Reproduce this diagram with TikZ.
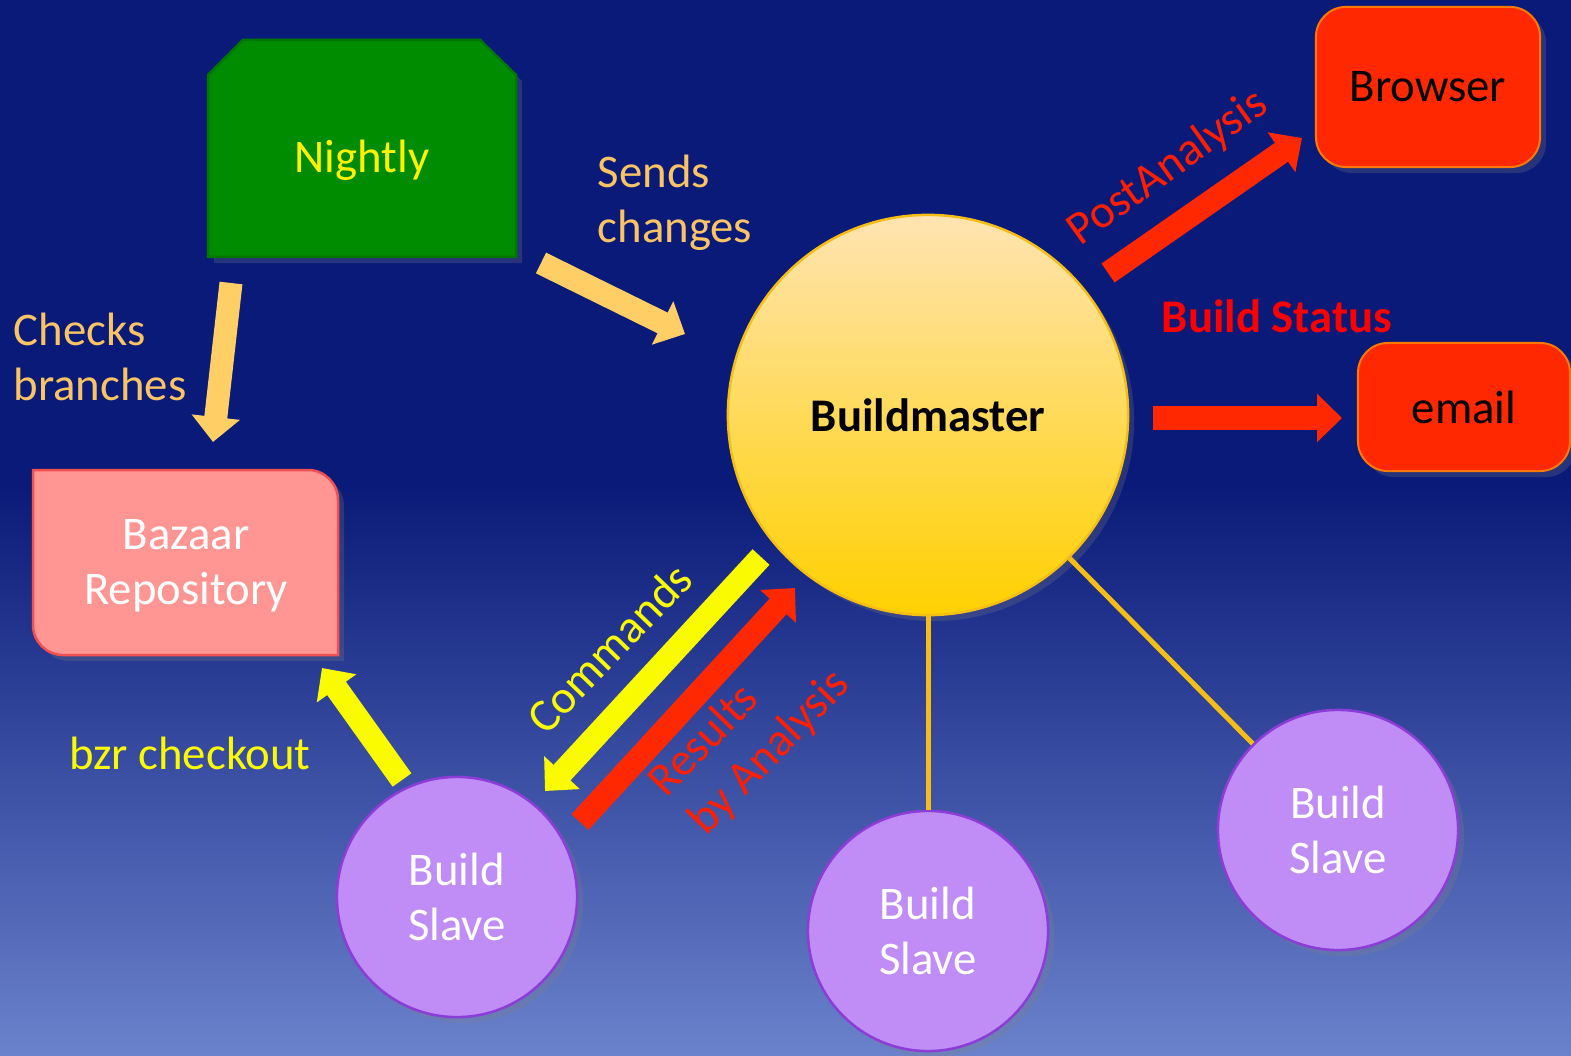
\documentclass[tikz,border=0pt]{standalone}
\usepackage{fontspec}
\setmainfont{Carlito}
\usetikzlibrary{arrows.meta}
\usetikzlibrary{shadows}
\usetikzlibrary{positioning}

\definecolor{bgtop}{RGB}{10,26,120}
\definecolor{bgbot}{RGB}{106,130,204}
\definecolor{nightgreen}{RGB}{0,140,0}
\definecolor{nightline}{RGB}{0,120,0}
\definecolor{repopink}{RGB}{255,150,148}
\definecolor{repoline}{RGB}{240,80,80}
\definecolor{masterlight}{RGB}{255,228,178}
\definecolor{masterdark}{RGB}{255,208,0}
\definecolor{masterline}{RGB}{245,190,20}
\definecolor{outred}{RGB}{255,40,0}
\definecolor{outline}{RGB}{255,120,0}
\definecolor{slavefill}{RGB}{192,140,245}
\definecolor{slaveline}{RGB}{140,60,215}
\definecolor{labelorange}{RGB}{250,196,100}
\definecolor{arroworange}{RGB}{255,206,100}
\definecolor{brightyellow}{RGB}{250,250,0}
\definecolor{labelred}{RGB}{255,30,0}

% the picture covers 25bp to 75bp of the shading
\pgfdeclareverticalshading{backdrop}{100bp}{color(0bp)=(bgbot); color(25bp)=(bgbot); color(52bp)=(bgtop); color(100bp)=(bgtop)}

\tikzset{
  txt/.style={font=\fontsize{13.3}{15.7}\selectfont, inner sep=0pt},
  shadowed/.style={drop shadow={opacity=0.25, shadow xshift=0.6mm, shadow yshift=-0.6mm}},
  slave/.style={circle, draw=slaveline, line width=0.25mm, fill=slavefill,
    minimum size=2.4cm, text=white, align=center, txt, shadowed},
  outbox/.style={rectangle, rounded corners=3mm, draw=outline, line width=0.2mm,
    fill=outred, text=black, txt, shadowed},
  spoke/.style={masterline, line width=0.5mm},
  fatarrow/.style={line width=2.3mm, -{Triangle[length=2.5mm 0 0, width=4.7mm 0 0]}},
}

\begin{document}
\begin{tikzpicture}[x=0.01cm, y=-0.01cm]
	\clip (0,0) rectangle (1571,1055);
	\shade[shading=backdrop] (0,0) rectangle (1571,1055);

	% nightly and the repository
	\filldraw[fill=nightgreen, draw=nightline, line width=0.25mm, shadowed]
		(208,75) -- (243,40) -- (480,40) -- (516,75) -- (516,257) -- (208,257) -- cycle;
	\node[txt, text=yellow] (nightly) at (362,160) {Nightly};

	\filldraw[fill=repopink, draw=repoline, line width=0.25mm, shadowed]
		(33,600) -- (33,470) [rounded corners=3mm] -- (338,470) [sharp corners] -- (338,655)
		[rounded corners=3mm] -- (33,655) [sharp corners] -- cycle;
	\node[txt, text=white, align=center] (repo) at (186,566) {Bazaar\\Repository};

	% buildmaster and the outputs
	\node[circle, minimum size=4cm, top color=masterlight, bottom color=masterdark,
		draw=masterline, line width=0.25mm, shadowed, txt, font=\fontsize{13.3}{15.7}\selectfont\bfseries]
		(master) at (928,415) {Buildmaster};
	\node[outbox, minimum width=2.24cm, minimum height=1.6cm] (browser) at (1428,87) {Browser};
	\node[outbox, minimum width=2.12cm, minimum height=1.28cm] (email) at (1464,407) {email};

	% slaves
	\foreach \n/\pos in {1/{457,897}, 2/{928,931}, 3/{1338,830}}
		\node[slave] (slave\n) at (\pos) {Build\\Slave};
	\draw[spoke] (master) -- (slave2);
	\draw[spoke] (master) -- (slave3);

	% arrows
	\coordinate (chk-a) at (231,283);
	\coordinate (chk-b) at (213,442);
	\coordinate (snd-a) at (541,263);
	\coordinate (snd-b) at (685,334);
	\coordinate (post-a) at (1108,273);
	\coordinate (post-b) at (1302,138);
	\coordinate (stat-a) at (1153,418);
	\coordinate (stat-b) at (1342,418);
	\coordinate (cmd-a) at (761,557);
	\coordinate (cmd-b) at (545,791);
	\coordinate (res-a) at (580,822);
	\coordinate (res-b) at (795,588);
	\coordinate (bzr-a) at (402,780);
	\coordinate (bzr-b) at (322,668);

	\draw[fatarrow, arroworange] (chk-a) -- (chk-b);
	\draw[fatarrow, arroworange] (snd-a) -- (snd-b);
	\draw[fatarrow, outred] (post-a) -- (post-b);
	\draw[fatarrow, outred] (stat-a) -- (stat-b);
	\draw[fatarrow, brightyellow] (cmd-a) -- (cmd-b);
	\draw[fatarrow, outred] (res-a) -- (res-b);
	\draw[fatarrow, brightyellow] (bzr-a) -- (bzr-b);

	% labels
	\node[txt, text=labelorange, align=left] (sends) at (675,203) {Sends\\changes};
	\node[txt, text=labelorange, align=left] (checks) at (100,357) {Checks\\branches};
	\node[txt, text=brightyellow] (bzrlbl) at (190,753) {bzr checkout};
	\node[txt, text=labelred, rotate=35.8] (postlbl) at (1168,168) {PostAnalysis};
	\node[txt, text=red, font=\fontsize{13.3}{15.7}\selectfont\bfseries] (statlbl) at (1277,316) {Build Status};
	\node[txt, text=brightyellow, rotate=46] (cmdlbl) at (609,648) {Commands};
	\node[txt, text=labelred, rotate=46, align=left] (reslbl) at (750,734) {Results\\by Analysis};
\end{tikzpicture}
\end{document}
